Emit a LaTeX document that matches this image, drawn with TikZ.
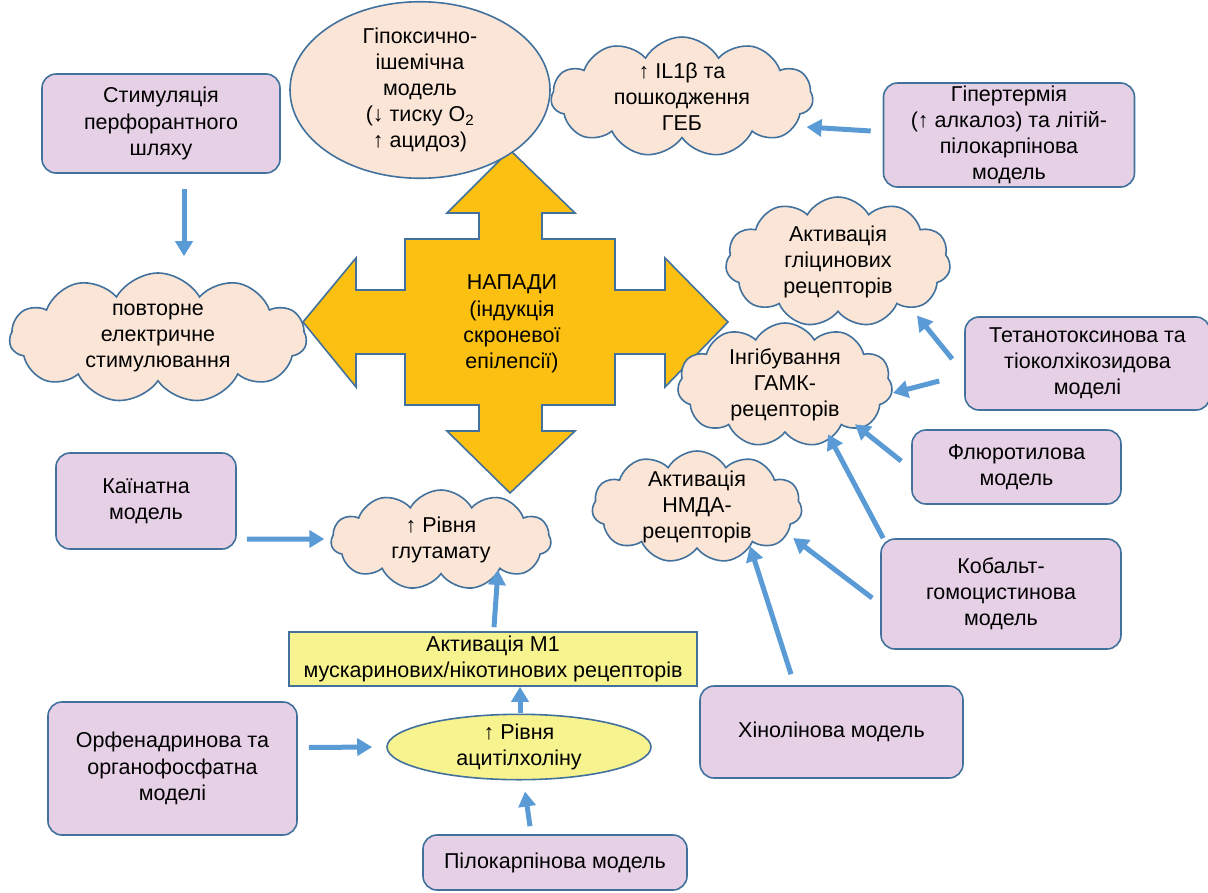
\documentclass[tikz,border=0pt]{standalone}
\usepackage{fontspec}
\setmainfont{Liberation Sans}
\usetikzlibrary{shapes.symbols,shapes.geometric,arrows.meta}

\definecolor{edgeblue}{HTML}{41719C}
\definecolor{arrowblue}{HTML}{5B9BD5}
\definecolor{peach}{HTML}{FBE5D6}
\definecolor{lilac}{HTML}{E6D0E6}
\definecolor{paleyellow}{HTML}{F7F38F}
\definecolor{seizure}{HTML}{FBC012}

\begin{document}
\begin{tikzpicture}[x=1pt,y=-1pt,
  every node/.style={font=\fontsize{21.5}{26.2}\selectfont, align=center, text=black},
  model/.style={draw=edgeblue, line width=1.6pt, fill=lilac, rounded corners=14pt, inner sep=0pt},
  puff/.style={cloud, cloud puffs=11, cloud puff arc=120, cloud ignores aspect, draw=edgeblue, line width=1.6pt, fill=peach, inner sep=0pt},
  oval/.style={ellipse, draw=edgeblue, line width=1.6pt, inner sep=0pt},
  arr/.style={arrowblue, line width=5pt, -{Triangle[length=15pt,width=17pt]}}]
\useasboundingbox (0,0) rectangle (1208,892);

% the four-way arrow in the middle
\draw[draw=edgeblue, line width=1.6pt, fill=seizure] (510,150) -- (575,213) -- (542,213) -- (542,239) -- (615,239) -- (615,290) -- (665,290) -- (665,258) -- (728,322) -- (665,387) -- (665,354) -- (615,354) -- (615,405) -- (542,405) -- (542,431) -- (575,431) -- (510,493) -- (447,431) -- (479,431) -- (479,405) -- (405,405) -- (405,354) -- (356,354) -- (356,387) -- (303,322) -- (356,258) -- (356,290) -- (405,290) -- (405,239) -- (479,239) -- (479,213) -- (447,213) -- cycle;
\node (seizures) at (512,324) {НАПАДИ\\(індукція\\скроневої\\епілепсії)};

% ovals
\node[oval, fill=peach, minimum width=260, minimum height=150] (hypoxia) at (420,90) {Гіпоксично-\\ішемічна\\модель\\(↓ тиску O\textsubscript{2}\\↑ ацидоз)};
\node[oval, fill=paleyellow, minimum width=264, minimum height=58] (ach) at (519,747) {↑ Рівня\\ацитілхоліну};

% clouds
\node[puff, minimum width=262, minimum height=120, label={center:{↑ IL1β та\\пошкодження\\ГЕБ}}] (il) at (682,97) {};
\node[puff, minimum width=297, minimum height=130, label={center:{повторне\\електричне\\стимулювання}}] (repeat) at (158,338) {};
\node[puff, minimum width=225, minimum height=130, label={center:{Активація\\гліцинових\\рецепторів}}] (glycine) at (838,262) {};
\node[puff, minimum width=215, minimum height=124, label={center:{Інгібування\\ГАМК-\\рецепторів}}] (gaba) at (785,385) {};
\node[puff, minimum width=210, minimum height=112, label={center:{Активація\\НМДА-\\рецепторів}}] (nmda) at (697,507) {};
\node[puff, minimum width=220, minimum height=100, label={center:{↑ Рівня\\глутамату}}] (glutamate) at (441,540) {};

% models
\node[model, minimum width=238, minimum height=99] (perforant) at (161,123.5) {Стимуляція\\перфорантного\\шляху};
\node[model, minimum width=251, minimum height=104] (hyperthermia) at (1009,135) {Гіпертермія\\(↑ алкалоз) та літій-\\пілокарпінова\\модель};
\node[model, minimum width=245, minimum height=93] (tetanus) at (1087.5,363.5) {Тетанотоксинова та\\тіоколхікозидова\\моделі};
\node[model, minimum width=209, minimum height=74] (flurothyl) at (1016.5,467) {Флюротилова\\модель};
\node[model, minimum width=240, minimum height=110] (cobalt) at (1001,594) {Кобальт-\\гомоцистинова\\модель};
\node[model, minimum width=263, minimum height=92] (quinolin) at (831.5,732) {Хінолінова модель};
\node[model, minimum width=180, minimum height=96] (kainate) at (146,501) {Каїнатна\\модель};
\node[model, minimum width=249, minimum height=133] (orphenadrine) at (172.5,768.5) {Орфенадринова та\\органофосфатна\\моделі};
\node[model, minimum width=264, minimum height=55] (pilocarpine) at (555,862.5) {Пілокарпінова модель};

% receptors box
\node[draw=edgeblue, line width=1.6pt, fill=paleyellow, inner sep=0pt, minimum width=408, minimum height=54] (muscarinic) at (493,659) {Активація M1\\мускаринових/нікотинових рецепторів};

% connectors
\draw[arr] ([shift={(23,15)}]perforant.south) -- ([shift={(26,-16)}]repeat.north);
\draw[arr] ([shift={(-12,-4)}]hyperthermia.west) -- ([shift={(-7,30)}]il.east);
\draw[arr] ([shift={(-12,-4.5)}]tetanus.west) -- ([shift={(79,3)}]glycine.south);
\draw[arr] ([shift={(-25,17.5)}]tetanus.west) -- ([shift={(0.5,8)}]gaba.east);
\draw[arr] ([shift={(-10,-6)}]flurothyl.west) -- ([shift={(70,-9)}]gaba.south);
\draw[arr] ([shift={(3,0)}]cobalt.north west) -- ([shift={(43,1)}]gaba.south);
\draw[arr] ([shift={(-8,4)}]cobalt.west) -- ([shift={(-9,31)}]nmda.east);
\draw[arr] ([shift={(-40.5,-11)}]quinolin.north) -- ([shift={(53,-3)}]nmda.south);
\draw[arr] ([shift={(10,38)}]kainate.east) -- ([shift={(-6,-1)}]glutamate.west);
\draw[arr] ([shift={(1,-4)}]muscarinic.north) -- ([shift={(57,-5)}]glutamate.south);
\draw[arr] ([shift={(1,-1)}]ach.north) -- ([shift={(27,0)}]muscarinic.south);
\draw[arr] ([shift={(11,-21)}]orphenadrine.east) -- ([shift={(-14,0)}]ach.west);
\draw[arr] ([shift={(-25,-8)}]pilocarpine.north) -- ([shift={(6,11)}]ach.south);
\end{tikzpicture}
\end{document}
